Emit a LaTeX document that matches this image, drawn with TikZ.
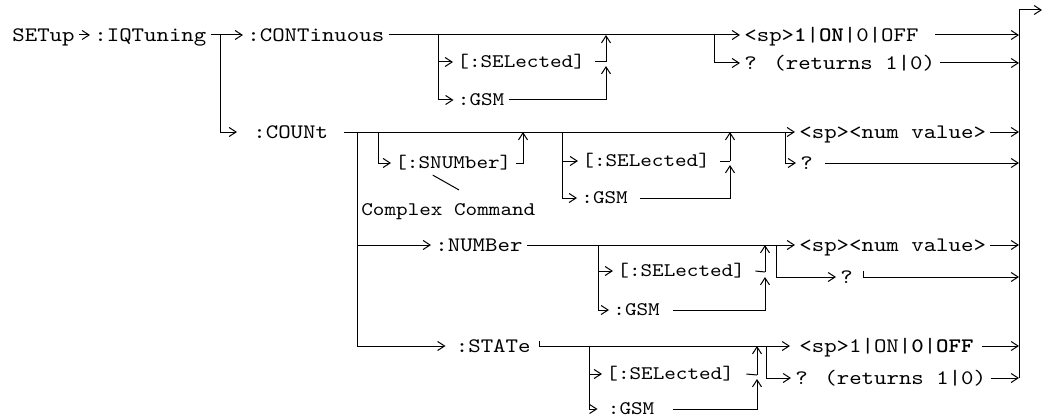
\documentclass[tikz,border=0pt]{standalone}
\usepackage{fontspec}
\usepackage{tikz}
\usetikzlibrary{arrows.meta}
\newfontfamily\cmdfont[FakeStretch=1.15, BoldFont=lmmonolt10-bold.otf]{lmmono10-regular.otf}
\tikzset{
    cmd/.style={anchor=west, inner xsep=2pt, inner ysep=0pt, text height=6.3pt, text depth=0pt, font=\cmdfont\fontsize{10.3}{12}\selectfont},
    subcmd/.style={cmd, text height=5.9pt, font=\cmdfont\fontsize{9.6}{11}\selectfont},
    wire/.style={line width=0.5pt, draw=black},
    arrow/.style={wire, -{Straight Barb[length=3.5pt,width=4.5pt]}}
}

\begin{document}
\begin{tikzpicture}[x=0.5pt, y=-0.5pt]
        \useasboundingbox (0,0) rectangle (1043,417);

        \node[cmd] (setup) at (8,35) {SETup};
        \node[cmd] (iq) at (90,35) {:IQTuning};
        \node[cmd] (cont) at (243,35) {:CONTinuous};
        \node[cmd] (count) at (249,132) {:COUNt};
        \node[cmd] (num) at (431,245) {:NUMBer};
        \node[cmd] (state) at (451.5,346) {:STATe};

        \node[subcmd] (selA) at (453,62) {[:SELected]};
        \node[subcmd] (gsmA) at (453.5,100) {:GSM};
        \node[subcmd] (snum) at (391,163) {[:SNUMber]};
        \node[subcmd] (cc) at (357,210) {Complex Command};
        \node[subcmd] (selB) at (578,161) {[:SELected]};
        \node[subcmd] (gsmB) at (577,198) {:GSM};
        \node[subcmd] (selC) at (613,271) {[:SELected]};
        \node[subcmd] (gsmC) at (609,310) {:GSM};
        \node[subcmd] (selD) at (602,374) {[:SELected]};
        \node[subcmd] (gsmD) at (603.5,409) {:GSM};

        \node[cmd] (spA) at (740,35) {<sp>\textbf{1}|\textbf{ON}|0|OFF};
        \node[cmd] (qA) at (740,63) {? (returns 1|0)};
        \node[cmd] (spB) at (795,132) {<sp><num value>};
        \node[cmd] (qB) at (796,163) {?};
        \node[cmd] (spC) at (795,245) {<sp><num value>};
        \node[cmd] (qC) at (836,277) {?};
        \node[cmd] (spD) at (795,346) {<sp>1|ON|\textbf{0}|\textbf{OFF}};
        \node[cmd] (qD) at (791,378) {? (returns 1|0)};

        \coordinate (jA) at (220,35);
        \coordinate (a1) at (438,35);
        \coordinate (a2) at (606,35);
        \coordinate (a3) at (714,35);
        \coordinate (aS) at (606,62);
        \coordinate (aG) at (606,66);
        \coordinate (b1) at (357,132);
        \coordinate (b2) at (378,132);
        \coordinate (b3) at (523,132);
        \coordinate (b4) at (562,132);
        \coordinate (b5) at (730,132);
        \coordinate (b6) at (785,132);
        \coordinate (bS) at (730,161);
        \coordinate (bG) at (730,165);
        \coordinate (c1) at (598,245);
        \coordinate (c2) at (765,245);
        \coordinate (c3) at (776,245);
        \coordinate (cS) at (765,272);
        \coordinate (cG) at (765,277);
        \coordinate (d1) at (589,346);
        \coordinate (d2) at (757,346);
        \coordinate (d3) at (766,346);
        \coordinate (dS) at (757,375);
        \coordinate (dG) at (757,379);
        \coordinate (rTop) at (1019,10);
        \coordinate (rEnd) at (1042,10);
        \coordinate (rA1) at (1019,35);
        \coordinate (rA2) at (1019,63);
        \coordinate (rB1) at (1019,132);
        \coordinate (rB2) at (1019,163);
        \coordinate (rC1) at (1019,245);
        \coordinate (rC2) at (1019,277);
        \coordinate (rD1) at (1019,346);
        \coordinate (rD2) at (1019,378);

        \draw[arrow] (setup.east) -- (iq.west);
        \draw[arrow] (iq.east) -- (cont.west);
        \draw[arrow] (jA) |- ([xshift=-6pt]count.west);

        \draw[arrow] (cont.east) -- (spA.west);
        \draw[arrow] (a1) |- (selA.west);
        \draw[arrow] (a1) |- (gsmA.west);
        \draw[wire] ([xshift=3pt]selA.east) -- (aS);
        \draw[arrow] (aS) -- (a2);
        \draw[arrow] (gsmA.east) -| (aG);
        \draw[arrow] (a3) |- (qA.west);
        \draw[arrow] ([xshift=6pt]spA.east) -- (rA1);
        \draw[arrow] (qA.east) -- (rA2);

        \draw[arrow] ([xshift=6pt]count.east) -- (spB.west);
        \draw[arrow] (b2) |- (snum.west);
        \draw[arrow] (snum.east) -| (b3);
        \draw[wire] ([xshift=-10.3pt,yshift=-2.9pt]snum.south) -- ([xshift=5.3pt,yshift=6.9pt]cc.north);
        \draw[arrow] (b4) |- (selB.west);
        \draw[arrow] (b4) |- (gsmB.west);
        \draw[wire] ([xshift=3pt]selB.east) -- (bS);
        \draw[arrow] (bS) -- (b5);
        \draw[arrow] ([xshift=4pt]gsmB.east) -| (bG);
        \draw[arrow] (b6) |- (qB.west);
        \draw[arrow] (spB.east) -- (rB1);
        \draw[arrow] ([xshift=4pt]qB.east) -- (rB2);

        \draw[arrow] (b1) |- (num.west);
        \draw[arrow] (num.east) -- (spC.west);
        \draw[arrow] (c1) |- (selC.west);
        \draw[arrow] (c1) |- (gsmC.west);
        \draw[wire] ([xshift=3pt]selC.east) -- (cS);
        \draw[arrow] (cS) -- (c2);
        \draw[arrow] ([xshift=4.5pt]gsmC.east) -| (cG);
        \draw[arrow] (c3) |- (qC.west);
        \draw[arrow] (spC.east) -- (rC1);
        \draw[arrow] ([xshift=3pt,yshift=3pt]qC.east) -- ([xshift=3pt]qC.east) -- (rC2);

        \draw[arrow] (b1) |- ([xshift=-3pt]state.west);
        \draw[arrow] ([xshift=2.5pt,yshift=2.5pt]state.east) -- ([xshift=2.5pt]state.east) -- ([xshift=-2.5pt]spD.west);
        \draw[arrow] (d1) |- (selD.west);
        \draw[arrow] (d1) |- ([xshift=-3pt]gsmD.west);
        \draw[wire] ([xshift=4pt]selD.east) -- (dS);
        \draw[arrow] (dS) -- (d2);
        \draw[arrow] ([xshift=7pt]gsmD.east) -| (dG);
        \draw[arrow] (d3) |- (qD.west);
        \draw[arrow] ([xshift=2pt]spD.east) -- (rD1);
        \draw[arrow] (qD.east) -- (rD2);

        \draw[wire] (rD2) -- (rTop);
        \draw[arrow] (rTop) -- (rEnd);
\end{tikzpicture}
\end{document}
